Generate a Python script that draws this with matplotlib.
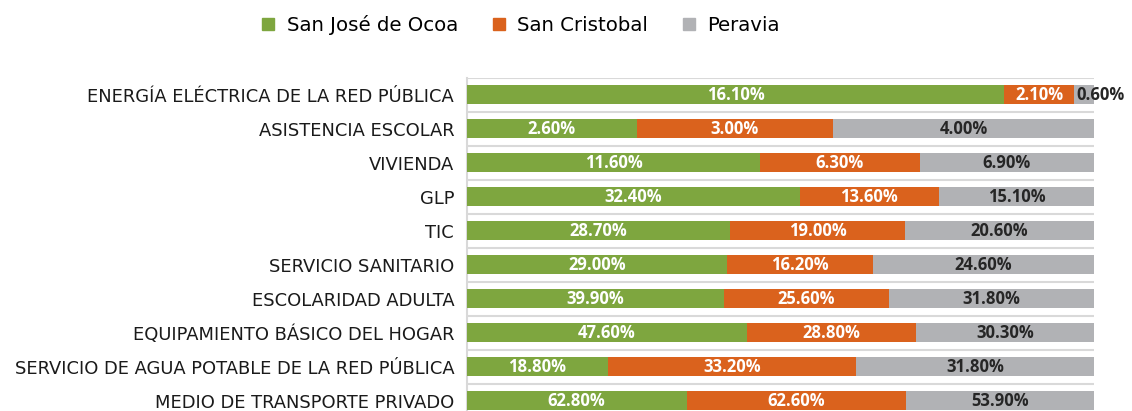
import matplotlib.pyplot as plt
import numpy as np
from matplotlib.patches import Patch

# data (top to bottom as in the chart)
categories = [
    "ENERGÍA ELÉCTRICA DE LA RED PÚBLICA",
    "ASISTENCIA ESCOLAR",
    "VIVIENDA",
    "GLP",
    "TIC",
    "SERVICIO SANITARIO",
    "ESCOLARIDAD ADULTA",
    "EQUIPAMIENTO BÁSICO DEL HOGAR",
    "SERVICIO DE AGUA POTABLE DE LA RED PÚBLICA",
    "MEDIO DE TRANSPORTE PRIVADO",
]
san_jose_de_ocoa = [16.1, 2.6, 11.6, 32.4, 28.7, 29.0, 39.9, 47.6, 18.8, 62.8]
san_cristobal = [2.1, 3.0, 6.3, 13.6, 19.0, 16.2, 25.6, 28.8, 33.2, 62.6]
peravia = [0.6, 4.0, 6.9, 15.1, 20.6, 24.6, 31.8, 30.3, 31.8, 53.9]
series_names = ["San José de Ocoa", "San Cristobal", "Peravia"]

colors = ["#7EA63F", "#DA621D", "#B1B2B5"]
text_colors = ["white", "white", "#262626"]

# -------------------------
# 100% STACKING
# -------------------------
vals = np.array([san_jose_de_ocoa, san_cristobal, peravia])
shares = vals / vals.sum(axis=0)
y = np.arange(len(categories))[::-1]

fig = plt.figure(figsize=(11.32, 4.11), dpi=100)
ax = fig.add_axes([0.4123, -0.0165, 0.5544, 0.8276])

left = np.zeros(len(categories))
for i in range(3):
    ax.barh(y, shares[i], left=left, height=0.56, color=colors[i], zorder=3)
    for yy, l, w, v in zip(y, left, shares[i], vals[i]):
        if w < 0.05:
            # too small to hold its label: write it from the segment start
            ax.text(l + 0.003, yy, f"{v:.2f}%", ha="left", va="center",
                    color="#262626", fontsize=12, fontweight="bold",
                    family="Open Sans", zorder=4)
        else:
            ax.text(l + w / 2, yy, f"{v:.2f}%", ha="center", va="center",
                    color=text_colors[i], fontsize=12, fontweight="bold",
                    family="Open Sans", zorder=4)
    left += shares[i]

# row separators
for b in np.arange(-0.5, len(categories), 1.0):
    ax.axhline(b, color="#D9D9D9", lw=1.5, zorder=1)

ax.set_xlim(0, 1)
ax.set_ylim(-0.5, len(categories) - 0.5)
ax.set_yticks(y)
ax.set_yticklabels(categories, fontsize=12.9, color="#1a1a1a")
ax.set_xticks([])
ax.tick_params(axis="y", length=0, pad=9)
for s in ["top", "right", "bottom"]:
    ax.spines[s].set_visible(False)
ax.spines["left"].set_color("#D9D9D9")
ax.spines["left"].set_linewidth(1.5)

handles = [Patch(color=c) for c in colors]
fig.legend(handles, series_names, loc="center", bbox_to_anchor=(0.4603, 0.939),
           ncol=3, frameon=False, handlelength=0.6, handleheight=0.6,
           handletextpad=0.65, columnspacing=1.75,
           prop={"size": 14.2})

plt.savefig("out.png", dpi=100)
